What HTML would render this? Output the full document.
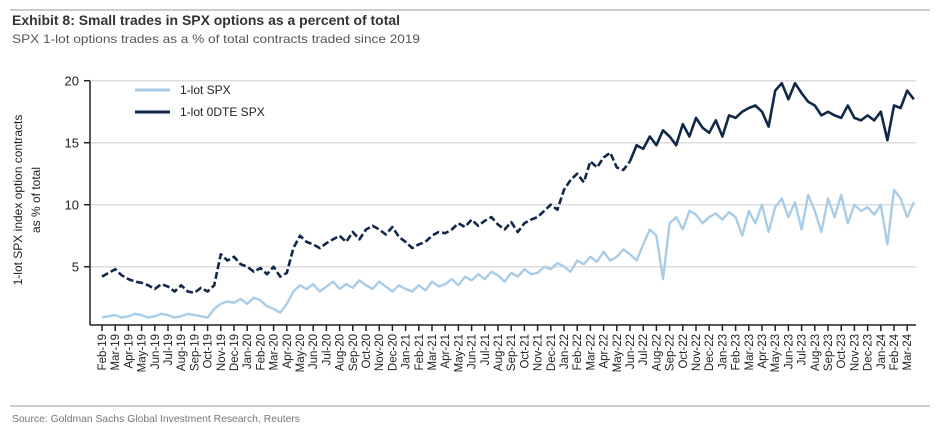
<!DOCTYPE html>
<html><head><meta charset="utf-8"><style>
body{margin:0;background:#fff;font-family:"Liberation Sans",sans-serif}
</style></head><body>
<svg id="c" width="937" height="439" xmlns="http://www.w3.org/2000/svg">
<line x1="10" y1="10" x2="930" y2="10" stroke="#bbb" stroke-width="1.5"/>
<text x="12" y="25" font-size="14" font-weight="bold" fill="#333" textLength="388" lengthAdjust="spacingAndGlyphs">Exhibit 8: Small trades in SPX options as a percent of total</text>
<text x="12" y="43" font-size="12" fill="#555" textLength="408" lengthAdjust="spacingAndGlyphs">SPX 1-lot options trades as a % of total contracts traded since 2019</text>
<text transform="translate(22,200) rotate(-90)" text-anchor="middle" font-size="12" fill="#222">1-lot SPX index option contracts</text>
<text transform="translate(40,200) rotate(-90)" text-anchor="middle" font-size="12" fill="#222">as % of total</text>
<g id="grid"></g><g id="yt"></g><g id="xt"></g><g id="series"></g>
<line x1="90" y1="81" x2="90" y2="325" stroke="#222" stroke-width="1.5"/>
<line x1="90" y1="325" x2="916" y2="325" stroke="#222" stroke-width="1.5"/>
<g>
<line x1="135" y1="90" x2="170" y2="90" stroke="#a9cde8" stroke-width="3"/>
<text x="180" y="94" font-size="12" fill="#222">1-lot SPX</text>
<line x1="135" y1="112" x2="170" y2="112" stroke="#12284a" stroke-width="3"/>
<text x="180" y="116" font-size="12" fill="#222">1-lot 0DTE SPX</text>
</g>
<line x1="10" y1="406" x2="930" y2="406" stroke="#bbb" stroke-width="1.5"/>
<text x="12" y="422" font-size="10.5" fill="#777" textLength="288" lengthAdjust="spacingAndGlyphs">Source: Goldman Sachs Global Investment Research, Reuters</text>
</svg>
<script>
const months=["Feb-19","Mar-19","Apr-19","May-19","Jun-19","Jul-19","Aug-19","Sep-19","Oct-19","Nov-19","Dec-19","Jan-20","Feb-20","Mar-20","Apr-20","May-20","Jun-20","Jul-20","Aug-20","Sep-20","Oct-20","Nov-20","Dec-20","Jan-21","Feb-21","Mar-21","Apr-21","May-21","Jun-21","Jul-21","Aug-21","Sep-21","Oct-21","Nov-21","Dec-21","Jan-22","Feb-22","Mar-22","Apr-22","May-22","Jun-22","Jul-22","Aug-22","Sep-22","Oct-22","Nov-22","Dec-22","Jan-23","Feb-23","Mar-23","Apr-23","May-23","Jun-23","Jul-23","Aug-23","Sep-23","Oct-23","Nov-23","Dec-23","Jan-24","Feb-24","Mar-24"];
const yTicks=[5,10,15,20];
const odte=[4.2,4.5,4.8,4.3,4.0,3.8,3.7,3.5,3.2,3.6,3.4,3.0,3.5,3.0,2.9,3.3,3.0,3.5,6.0,5.5,5.8,5.2,5.0,4.6,4.9,4.4,5.0,4.2,4.5,6.5,7.5,7.0,6.8,6.5,6.9,7.2,7.5,7.0,7.8,7.2,8.0,8.3,8.0,7.6,8.2,7.4,7.0,6.5,6.8,7.0,7.5,7.8,7.7,8.0,8.5,8.2,8.8,8.3,8.7,9.0,8.4,8.0,8.6,7.8,8.5,8.8,9.0,9.5,10.0,9.6,11.2,12.0,12.5,11.8,13.5,13.0,13.8,14.2,13.0,12.8,13.5,14.8,14.5,15.5,14.8,16.0,15.5,14.8,16.5,15.5,17.0,16.2,15.8,16.8,15.5,17.2,17.0,17.5,17.8,18.0,17.5,16.3,19.2,19.8,18.5,19.8,19.0,18.3,18.0,17.2,17.5,17.2,17.0,18.0,17.0,16.8,17.2,16.8,17.5,15.2,18.0,17.8,19.2,18.5];
const onelot=[0.9,1.0,1.1,0.9,1.0,1.2,1.1,0.9,1.0,1.2,1.1,0.9,1.0,1.2,1.1,1.0,0.9,1.6,2.0,2.2,2.1,2.4,2.0,2.5,2.3,1.8,1.6,1.3,2.0,3.0,3.5,3.2,3.6,3.0,3.4,3.8,3.2,3.6,3.3,3.9,3.5,3.2,3.8,3.4,3.0,3.5,3.2,3.0,3.5,3.1,3.8,3.4,3.6,4.0,3.5,4.2,3.9,4.4,4.0,4.6,4.3,3.8,4.5,4.2,4.8,4.4,4.5,5.0,4.8,5.3,5.0,4.6,5.5,5.2,5.8,5.4,6.2,5.5,5.8,6.4,6.0,5.5,6.8,8.0,7.5,4.0,8.5,9.0,8.0,9.5,9.2,8.5,9.0,9.3,8.8,9.4,9.0,7.5,9.5,8.5,10.0,7.8,9.8,10.5,9.0,10.2,8.0,10.8,9.5,7.8,10.5,9.0,10.8,8.5,10.0,9.5,9.8,9.2,10.0,6.8,11.2,10.5,9.0,10.2];
const X0=102,STEP=13.2,Y0=325,YMIN=0.3,PPU=12.4;
const xm=m=>X0+m*STEP, y=v=>Y0-(v-YMIN)*PPU;
const NS="http://www.w3.org/2000/svg";
function mk(t,a,p){const e=document.createElementNS(NS,t);for(const k in a)e.setAttribute(k,a[k]);p.appendChild(e);return e;}
const g=document.getElementById('grid'),yt=document.getElementById('yt'),xt=document.getElementById('xt'),sg=document.getElementById('series');
yTicks.forEach(v=>{
 const l=mk('line',{x1:90,x2:916,y1:y(v),y2:y(v),stroke:'#ddd','stroke-width':1.5},g);
 
 
 const tk=mk('line',{x1:84,x2:90,y1:y(v),y2:y(v),stroke:'#222','stroke-width':1.5},yt);
 
 
 const t=mk('text',{x:79,y:y(v)+5,'text-anchor':'end','font-size':13,fill:'#222'},yt);
 t.textContent=v;
 
 
});
months.forEach((m,i)=>{
 const tk=mk('line',{x1:xm(i),x2:xm(i),y1:325,y2:331,stroke:'#222','stroke-width':1.5},xt);
 
 
 const t=mk('text',{transform:`translate(${xm(i)+4},334) rotate(-90)`,'text-anchor':'end','font-size':11.5,fill:'#222'},xt);
 t.textContent=m;
 
 
});
function path(arr){return arr.map((v,i)=>(i?'L':'M')+xm(i/2).toFixed(1)+','+y(v).toFixed(1)).join('');}
const p1=mk('path',{d:path(onelot),fill:'none',stroke:'#a9cde8','stroke-width':2.4,'stroke-linejoin':'round'},sg);


const split=80;
const p2a=mk('path',{d:path(odte.slice(0,split+1)),fill:'none',stroke:'#12284a','stroke-width':2.6,'stroke-dasharray':'7,3','stroke-linejoin':'round'},sg);


const d2=odte.map((v,i)=>i<split?null:(i===split?'M':'L')+xm(i/2).toFixed(1)+','+y(v).toFixed(1)).filter(Boolean).join('');
const p2b=mk('path',{d:d2,fill:'none',stroke:'#12284a','stroke-width':2.6,'stroke-linejoin':'round'},sg);


</script>
</body></html>
